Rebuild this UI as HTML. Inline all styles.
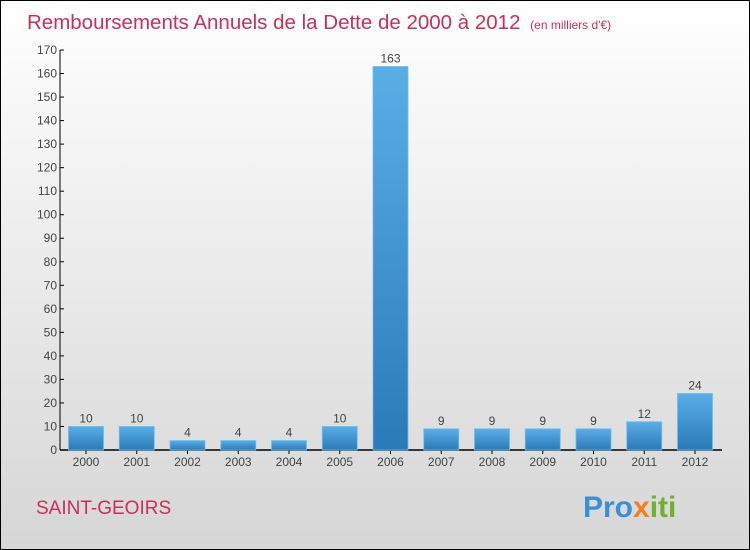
<!DOCTYPE html>
<html><head><meta charset="utf-8"><style>
body{margin:0;width:750px;height:550px;overflow:hidden}
#c{position:absolute;left:0;top:0;width:748px;height:548px;border:1px solid #000;background:linear-gradient(#ffffff,#d6d6d6)}
</style></head><body>
<div id="c">
<svg width="750" height="550" style="position:absolute;left:-1px;top:-1px" font-family="'Liberation Sans',sans-serif">
<defs><linearGradient id="bg" x1="0" y1="0" x2="0" y2="1"><stop offset="0" stop-color="#5aaee6"/><stop offset="1" stop-color="#2a7ab8"/></linearGradient></defs>
<text x="27" y="29" font-size="20.5" fill="#c8305a">Remboursements Annuels de la Dette de 2000 à 2012 <tspan font-size="12" dx="4">(en milliers d'€)</tspan></text>
<g id="axes"></g>
<g id="bars"></g>
<text x="36" y="514" font-size="19" fill="#c8305a">SAINT-GEOIRS</text>
<text x="583" y="517" font-size="30" font-weight="bold"><tspan fill="#3a8fd8">Pro</tspan><tspan fill="#f08020">x</tspan><tspan fill="#70b030">iti</tspan></text>
</svg></div>
<script>
const categories=["2000","2001","2002","2003","2004","2005","2006","2007","2008","2009","2010","2011","2012"];
const values=[10,10,4,4,4,10,163,9,9,9,9,12,24];
const yTicks=[0,10,20,30,40,50,60,70,80,90,100,110,120,130,140,150,160,170];
const NS="http://www.w3.org/2000/svg";
const y=v=>450-v*400/170;
const x=i=>86+i*50.75;
function mk(t,a,p){const e=document.createElementNS(NS,t);for(const k in a)e.setAttribute(k,a[k]);p.appendChild(e);return e;}
const ax=document.getElementById('axes'),bg=document.getElementById('bars');
let l=mk('line',{x1:60,y1:50,x2:60,y2:450,stroke:'#000'},ax);


l=mk('line',{x1:60,y1:450,x2:722,y2:450,stroke:'#000','stroke-width':1.5},ax);


yTicks.forEach(v=>{
 mk('line',{x1:60,y1:y(v),x2:64,y2:y(v),stroke:'#000'},ax);
 const t=mk('text',{x:57,y:y(v)+4,'text-anchor':'end','font-size':12,fill:'#444'},ax);t.textContent=v;
 
 
});
categories.forEach((c,i)=>{
 mk('line',{x1:x(i),y1:450,x2:x(i),y2:454,stroke:'#000'},ax);
 const t=mk('text',{x:x(i),y:466,'text-anchor':'middle','font-size':12,fill:'#444'},ax);t.textContent=c;
 
 
 const r=mk('rect',{x:x(i)-17.5,y:y(values[i]),width:35,height:450-y(values[i]),fill:'url(#bg)',stroke:'#6cbcf0','stroke-width':0.8},bg);
 
 
 const v=mk('text',{x:x(i),y:y(values[i])-4,'text-anchor':'middle','font-size':12,fill:'#444'},bg);v.textContent=values[i];
 
 
});
</script>
</body></html>
